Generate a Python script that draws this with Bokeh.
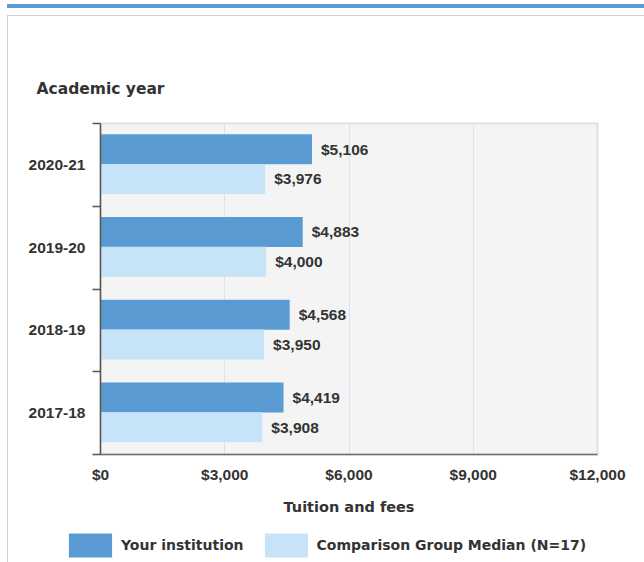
from bokeh.plotting import figure
from bokeh.models import (ColumnDataSource, FixedTicker, LabelSet, Legend,
                          LegendItem, Range1d, Title)
from bokeh.layouts import column
from bokeh.embed import file_html
from bokeh.resources import INLINE
from bokeh.core.properties import value

# ---- data ----
years = ["2017-18", "2018-19", "2019-20", "2020-21"]
your_institution = [4419, 4568, 4883, 5106]
comparison_median = [3908, 3950, 4000, 3976]
x_ticks = [0, 3000, 6000, 9000, 12000]
x_tick_labels = ["$0", "$3,000", "$6,000", "$9,000", "$12,000"]
series_names = ["Your institution", "Comparison Group Median (N=17)"]
x_title = "Tuition and fees"
y_title = "Academic year"

# ---- styles ----
DARK = "#5b9bd3"
LIGHT = "#c6e3f7"
TEXT = "#333333"
WORD_FONT = "DejaVu Sans"
NUM_FONT = "Liberation Sans"
BAR_H = 0.3625

centers = [i + 0.5 for i in range(len(years))]

src_a = ColumnDataSource(dict(
    y=[c + 0.19 for c in centers], v=your_institution,
    t=["${:,}".format(v) for v in your_institution]))
src_b = ColumnDataSource(dict(
    y=[c - 0.17 for c in centers], v=comparison_median,
    t=["${:,}".format(v) for v in comparison_median]))

# page decoration (blue top rule + light panel border) drawn as CSS background
deco = {
    "background-color": "white",
    "background-image": ("linear-gradient(#5b9bd3,#5b9bd3), "
                         "linear-gradient(#d0d0d0,#d0d0d0), "
                         "linear-gradient(#d0d0d0,#d0d0d0)"),
    "background-position": "7px 4px, 7px 15px, 7px 15px",
    "background-size": "637px 4px, 637px 1px, 1px 547px",
    "background-repeat": "no-repeat",
}

p = figure(width=644, height=524, output_backend="svg", toolbar_location=None,
           x_range=Range1d(0, 12000), y_range=Range1d(0, len(years)),
           min_border_left=100, min_border_right=47, min_border_top=123,
           min_border_bottom=70, margin=(0, 0, 0, 0))
p.frame_align = False
p.background_fill_color = "#f4f4f4"
p.border_fill_alpha = 0
p.outline_line_color = "#e0e0e0"
p.outline_line_width = 2

r1 = p.hbar(y="y", right="v", left=0, height=BAR_H, source=src_a,
            fill_color=DARK, line_color=None)
r2 = p.hbar(y="y", right="v", left=0, height=BAR_H, source=src_b,
            fill_color=LIGHT, line_color=None)

for src in (src_a, src_b):
    p.add_layout(LabelSet(x="v", y="y", text="t", source=src, x_offset=9,
                          text_baseline="middle", text_align="left",
                          text_font=value(NUM_FONT), text_font_style="bold",
                          text_font_size="15.5px", text_color=TEXT))

# x axis
xa = p.xaxis[0]
xa.ticker = FixedTicker(ticks=x_ticks)
xa.major_label_overrides = {t: l for t, l in zip(x_ticks, x_tick_labels)}
xa.major_tick_line_color = None
xa.minor_tick_line_color = None
xa.major_tick_out = 0
xa.major_label_standoff = 11
xa.axis_line_color = "#6e6e6e"
xa.axis_line_width = 1.5
xa.major_label_text_font = NUM_FONT
xa.major_label_text_font_style = "bold"
xa.major_label_text_font_size = "15.5px"
xa.major_label_text_color = TEXT
xa.axis_label = x_title
xa.axis_label_text_font = WORD_FONT
xa.axis_label_text_font_style = "bold"
xa.axis_label_text_font_size = "14.5px"
xa.axis_label_text_color = TEXT
xa.axis_label_standoff = 13

# y axis
ya = p.yaxis[0]
ya.ticker = FixedTicker(ticks=centers, minor_ticks=list(range(len(years) + 1)))
ya.major_label_overrides = {c: y for c, y in zip(centers, years)}
ya.major_tick_line_color = None
ya.major_tick_out = 0
ya.minor_tick_in = 0
ya.minor_tick_out = 8
ya.minor_tick_line_color = "#555555"
ya.minor_tick_line_width = 1.5
ya.axis_line_color = "#555555"
ya.axis_line_width = 1.5
ya.major_label_standoff = 7
ya.major_label_text_font = NUM_FONT
ya.major_label_text_font_style = "bold"
ya.major_label_text_font_size = "15.5px"
ya.major_label_text_color = TEXT

p.xgrid.grid_line_color = "#d8e2f0"
p.xgrid.grid_line_width = 1
p.xgrid.ticker = FixedTicker(ticks=x_ticks)
p.ygrid.grid_line_color = None

# y title (above the frame, left aligned)
p.title = Title(text=y_title, align="left", offset=-64, standoff=51,
                text_font=WORD_FONT, text_font_style="bold",
                text_font_size="15.5px", text_color=TEXT)

# legend strip: a second, axis-less figure whose frame is the whole strip
lf = figure(width=644, height=38, output_backend="svg", toolbar_location=None,
            x_range=Range1d(0, 644), y_range=Range1d(0, 38),
            x_axis_type=None, y_axis_type=None,
            min_border_left=0, min_border_right=0, min_border_top=0,
            min_border_bottom=0, margin=(0, 0, 0, 0))
lf.frame_align = False
lf.grid.visible = False
lf.outline_line_color = None
lf.background_fill_alpha = 0
lf.border_fill_alpha = 0
# zero-height placeholder glyphs that only carry the legend swatch styles
lr1 = lf.hbar(y=[-10], right=[0], left=[0], height=0, fill_color=DARK, line_color=None)
lr2 = lf.hbar(y=[-10], right=[0], left=[0], height=0, fill_color=LIGHT, line_color=None)

legend = Legend(items=[LegendItem(label=series_names[0], renderers=[lr1]),
                       LegendItem(label=series_names[1], renderers=[lr2])],
                location=(63, 2), orientation="horizontal",
                glyph_width=54, glyph_height=30, label_standoff=4, spacing=15,
                padding=0, margin=0, border_line_color=None,
                background_fill_alpha=0,
                label_text_font=WORD_FONT, label_text_font_style="bold",
                label_text_font_size="14px", label_text_color=TEXT)
lf.add_layout(legend)

layout = column(p, lf, spacing=0, margin=(0, 0, 0, 0), styles=deco)

open("out.html", "w").write(file_html(layout, INLINE))
